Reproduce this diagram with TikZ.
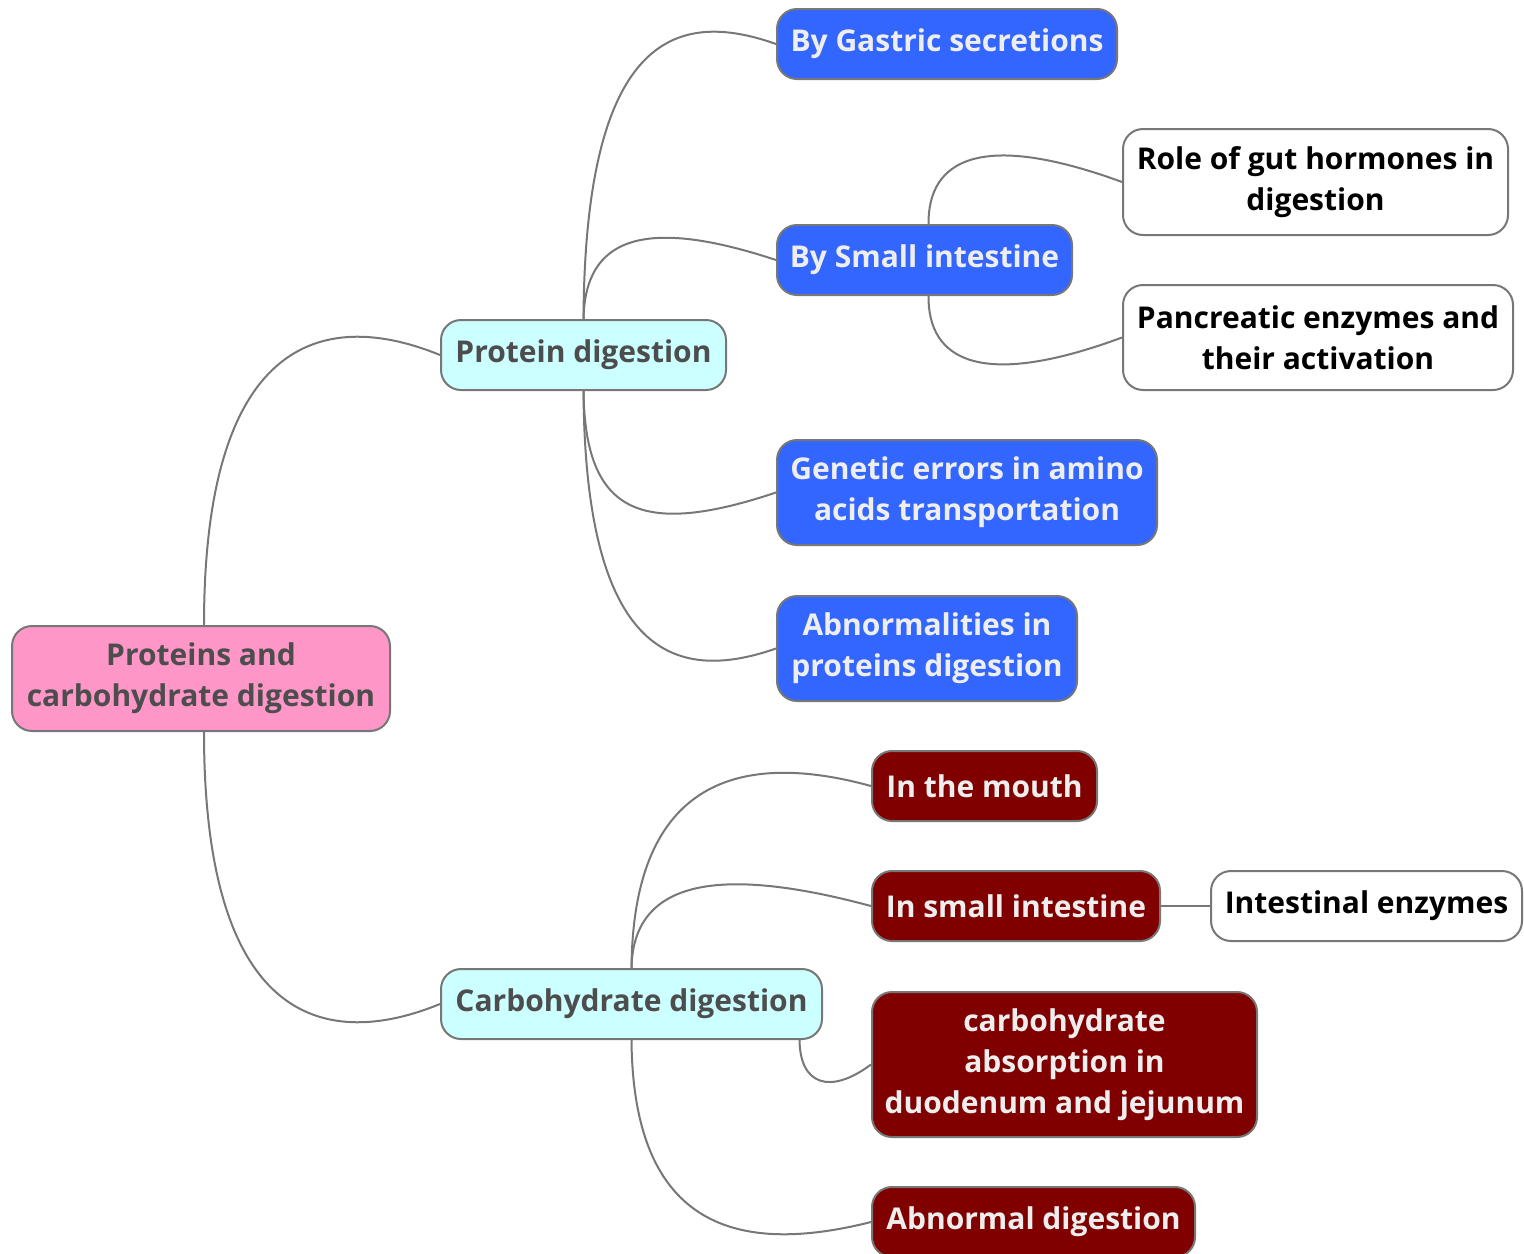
\documentclass[tikz,border=0pt]{standalone}
\usepackage{fontspec}
\setmainfont{Open Sans}
\definecolor{pinkC}{HTML}{FF96C8}
\definecolor{cyanC}{HTML}{CCFFFF}
\definecolor{blueC}{HTML}{3366FF}
\definecolor{redC}{HTML}{800000}
\definecolor{lineC}{HTML}{777777}
\definecolor{grayT}{HTML}{4D4D4D}
\definecolor{lightT}{HTML}{EEEEEE}
\begin{document}
\begin{tikzpicture}[x=0.5pt,y=-0.5pt,
  box/.style={draw=lineC, line width=1pt, rounded corners=10pt, align=center,
    inner sep=0pt, font=\fontsize{15}{20.5}\selectfont\bfseries},
  rootbox/.style={box, fill=pinkC, text=grayT},
  midbox/.style={box, fill=cyanC, text=grayT},
  bluebox/.style={box, fill=blueC, text=lightT},
  redbox/.style={box, fill=redC, text=lightT},
  whitebox/.style={box, fill=white, text=black},
  conn/.style={draw=lineC, line width=1pt}]
\useasboundingbox (0,0) rectangle (1524,1253);
% nodes
\node[rootbox, minimum width=189pt, minimum height=52.5pt] (root) at (201,678.5) {Proteins and\\carbohydrate digestion};
\node[midbox, minimum width=142.5pt, minimum height=35pt] (prot) at (583.5,355) {Protein digestion};
\node[midbox, minimum width=190.5pt, minimum height=35pt] (carb) at (631.5,1004) {Carbohydrate digestion};
\node[bluebox, minimum width=170pt, minimum height=35pt] (gast) at (947,44) {By Gastric secretions};
\node[bluebox, minimum width=147.5pt, minimum height=35pt] (small) at (924.5,260) {By Small intestine};
\node[whitebox, minimum width=192.5pt, minimum height=53pt] (role) at (1315.5,182) {Role of gut hormones in\\digestion};
\node[whitebox, minimum width=195pt, minimum height=52.5pt] (panc) at (1318,337.5) {Pancreatic enzymes and\\their activation};
\node[bluebox, minimum width=190pt, minimum height=52.5pt] (gene) at (967,492.5) {Genetic errors in amino\\acids transportation};
\node[bluebox, minimum width=150pt, minimum height=52.5pt] (abpr) at (927,648.5) {Abnormalities in\\proteins digestion};
\node[redbox, minimum width=112.5pt, minimum height=35pt] (mouth) at (984.5,786) {In the mouth};
\node[redbox, minimum width=144pt, minimum height=35pt] (insm) at (1016,906) {In small intestine};
\node[whitebox, minimum width=155.5pt, minimum height=35pt] (inte) at (1366.5,906) {Intestinal enzymes};
\node[redbox, minimum width=192.5pt, minimum height=72.5pt] (abso) at (1064.5,1064.5) {carbohydrate\\absorption in\\duodenum and jejunum};
\node[redbox, minimum width=161.5pt, minimum height=35pt] (abdi) at (1033.5,1222) {Abnormal digestion};
% connectors
\draw[conn] ([xshift=1.5pt]root.north) .. controls (204,330) and (330,310) .. (prot.west);
\draw[conn] ([xshift=1.5pt]root.south) .. controls (204,1029) and (330,1049) .. (carb.west);
\draw[conn] (prot.north) .. controls (585,30) and (680,10) .. (gast.west);
\draw[conn] (prot.north) .. controls (585,240) and (640,215) .. (small.west);
\draw[conn] (prot.south) .. controls (585,513) and (640,538) .. (gene.west);
\draw[conn] (prot.south) .. controls (585,662) and (680,682) .. (abpr.west);
\draw[conn] ([xshift=2pt]small.north) .. controls (928,160) and (980,130) .. (role.west);
\draw[conn] ([xshift=2pt]small.south) .. controls (928,360) and (980,390) .. (panc.west);
\draw[conn] (carb.north) .. controls (633,780) and (740,750) .. (mouth.west);
\draw[conn] (carb.north) .. controls (633,890) and (700,860) .. (insm.west);
\draw[conn] ([xshift=84pt]carb.south) .. controls (800,1085) and (830,1095) .. (abso.west);
\draw[conn] (carb.south) .. controls (633,1230) and (740,1255) .. (abdi.west);
\draw[conn] (insm.east) -- (inte.west);
\end{tikzpicture}
\end{document}
